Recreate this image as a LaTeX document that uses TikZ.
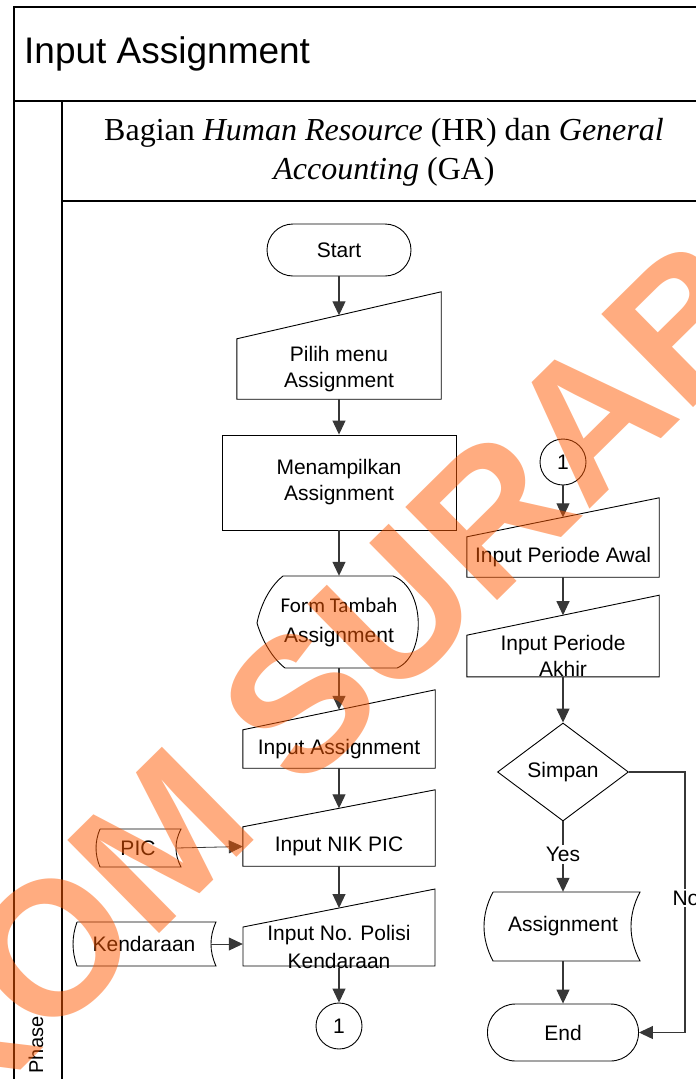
\documentclass[tikz,border=0pt]{standalone}
\usepackage{fontspec}
\setmainfont{Liberation Sans}
\newfontfamily\seriffont{Liberation Serif}
\newfontfamily\calfont{Carlito}
\usetikzlibrary{arrows.meta,calc,shapes.geometric}
\definecolor{conn}{RGB}{55,55,55}
\definecolor{wm}{RGB}{255,89,1}

\begin{document}
\begin{tikzpicture}[x=1pt,y=-1pt,
  shapeline/.style={draw=black,line width=0.9pt},
  lbl/.style={font=\fontsize{21}{26}\selectfont, align=center, inner sep=0pt},
  box/.style={lbl, minimum width=#1},
  flow/.style={draw=conn, line width=1.1pt, -{Triangle[width=13pt,length=14pt]}},
  frameline/.style={draw=black, line width=2pt},
]
\useasboundingbox (0,0) rectangle (696,1079);
\clip (0,0) rectangle (696,1079);

% swimlane frame
\draw[frameline] (14,1085) -- (14,7) -- (720,7);
\draw[frameline] (14,101) -- (720,101);
\draw[frameline] (62,101) -- (62,1085);
\draw[frameline] (62,201) -- (720,201);

\node[anchor=west, inner sep=0pt, font=\fontsize{37}{40}\selectfont] (title) at (24,54) {Input Assignment};
\node[font=\seriffont\fontsize{32}{39}\selectfont, align=center, inner sep=0pt] (lane) at (384,152)
  {Bagian \textit{Human Resource} (HR) dan \textit{General}\\\textit{Accounting} (GA)};
\node[rotate=90, inner sep=0pt, font=\fontsize{20}{24}\selectfont] (phase) at (36,1045) {Phase};

% ---- left column ----
\node[shapeline, lbl, rounded corners=26pt, minimum width=144pt, minimum height=52pt] (start) at (339,250) {Start};

% manual input: Pilih menu
\node[box=204pt, minimum height=60pt] (pilih) at (339,369) {Pilih menu\\Assignment};
\draw[shapeline] (pilih.south west) -- (pilih.north west) -- ($(pilih.north east)+(0,-47)$) -- (pilih.south east) -- cycle;
\coordinate (pilihIn) at ($(pilih.north)+(0,-23.5)$);

\node[shapeline, lbl, minimum width=234pt, minimum height=95pt] (menu) at (339,482.5) {Menampilkan\\Assignment};

% display: Form Tambah Assignment
\draw[shapeline] (283,576) -- (393,576) .. controls (426,588) and (426,656) .. (397,668) -- (285,668)
  .. controls (272,658) and (262,640) .. (257,623) .. controls (260,608) and (268,588) .. (283,576);
\node[lbl, minimum width=162pt, minimum height=92pt, font=\fontsize{21}{30}\selectfont] (form) at (339,622)
  {{\calfont\fontsize{21}{30}\selectfont Form Tambah}\\Assignment};

% manual input: Input Assignment
\node[box=192pt, minimum height=38pt] (inass) at (339,749) {Input Assignment};
\draw[shapeline] (inass.south west) -- (inass.north west) -- ($(inass.north east)+(0,-40)$) -- (inass.south east) -- cycle;
\coordinate (inassIn) at ($(inass.north)+(0,-20)$);

% manual input: Input NIK PIC
\node[box=192pt, minimum height=39pt] (nik) at (339,846.5) {Input NIK PIC};
\draw[shapeline] (nik.south west) -- (nik.north west) -- ($(nik.north east)+(0,-37)$) -- (nik.south east) -- cycle;
\coordinate (nikIn) at ($(nik.north)+(0,-18.5)$);

% manual input: Input No. Polisi Kendaraan
\draw[shapeline] (243,966) -- (243,927) -- (435,889) -- (435,966) -- cycle;
\node[box=192pt, minimum height=39pt, font=\fontsize{21}{28}\selectfont] (polisi) at (339,946.5) {Input No. Polisi\\Kendaraan};
\coordinate (polisiIn) at (339,908);

\node[shapeline, circle, lbl, minimum size=46pt] (conA) at (339,1026) {1};

% stored data: PIC, Kendaraan
\draw[shapeline] (100,829) -- (181,829) .. controls (174.3,841.7) and (174.3,854.3) .. (181,867) -- (100,867)
  .. controls (94.7,854.3) and (94.7,841.7) .. (100,829);
\node[lbl, minimum width=76pt, minimum height=38pt] (pic) at (138,848) {PIC};
\draw[shapeline] (77,922) -- (216,922) .. controls (209.3,936.7) and (209.3,951.3) .. (216,966) -- (77,966)
  .. controls (71.7,951.3) and (71.7,936.7) .. (77,922);
\node[lbl, minimum width=134pt, minimum height=44pt] (kend) at (144,944) {Kendaraan};

% ---- right column ----
\node[shapeline, circle, lbl, minimum size=46pt] (conB) at (563,462) {1};

\node[box=192pt, minimum height=40pt] (awal) at (563,557) {Input Periode Awal};
\draw[shapeline] (awal.south west) -- (awal.north west) -- ($(awal.north east)+(0,-39)$) -- (awal.south east) -- cycle;
\coordinate (awalIn) at ($(awal.north)+(0,-19.5)$);

\node[box=192pt, minimum height=38pt] (akhir) at (563,656) {Input Periode\\Akhir};
\draw[shapeline] (akhir.south west) -- (akhir.north west) -- ($(akhir.north east)+(0,-40)$) -- (akhir.south east) -- cycle;
\coordinate (akhirIn) at ($(akhir.north)+(0,-20)$);

\node[shapeline, diamond, lbl, aspect=1.34, minimum width=131pt, minimum height=98pt] (simpan) at (563,772) {Simpan};

\draw[shapeline] (493,892) -- (640,892) .. controls (628,915) and (628,938) .. (640,961) -- (493,961)
  .. controls (481,938) and (481,915) .. (493,892);
\node[lbl, minimum width=136pt, minimum height=69pt] (asg) at (563,926.5) {Assignment};

\node[shapeline, lbl, rounded corners=28pt, minimum width=151pt, minimum height=57pt] (end) at (563,1032.5) {End};

% ---- connectors ----
\draw[flow] (start) -- (pilihIn);
\draw[flow] (pilih.south) -- (menu.north);
\draw[flow] (menu.south) -- (form.north);
\draw[flow] (form.south) -- (inassIn);
\draw[flow] (inass.south) -- (nikIn);
\draw[flow] (nik.south) -- (polisiIn);
\draw[flow] (polisi.south) -- (conA.north);
\draw[flow, line width=0.8pt] (pic.east) -- (nik.west);
\draw[flow, line width=0.8pt] (kend.east) -- (polisi.west |- kend.east);

\draw[flow] (conB.south) -- (awalIn);
\draw[flow] (awal.south) -- (akhirIn);
\draw[flow] (akhir.south) -- (simpan.north);
\draw[flow] (simpan.south) -- node[lbl, fill=white, inner sep=2pt, pos=0.47] (yes) {Yes} (asg.north);
\draw[flow] (asg.south) -- (end.north);
\draw[flow] (simpan.east) -- ++(56,0) |- (end.east);
\node[lbl, fill=white, inner sep=2pt] (no) at (686,898) {No};

% watermark
\node[rotate=44.6, text=wm, opacity=0.5, inner sep=0pt, font=\bfseries\fontsize{190}{190}\selectfont] (stamp) at (344,660) {STIKOM SURABAYA};
\end{tikzpicture}
\end{document}
